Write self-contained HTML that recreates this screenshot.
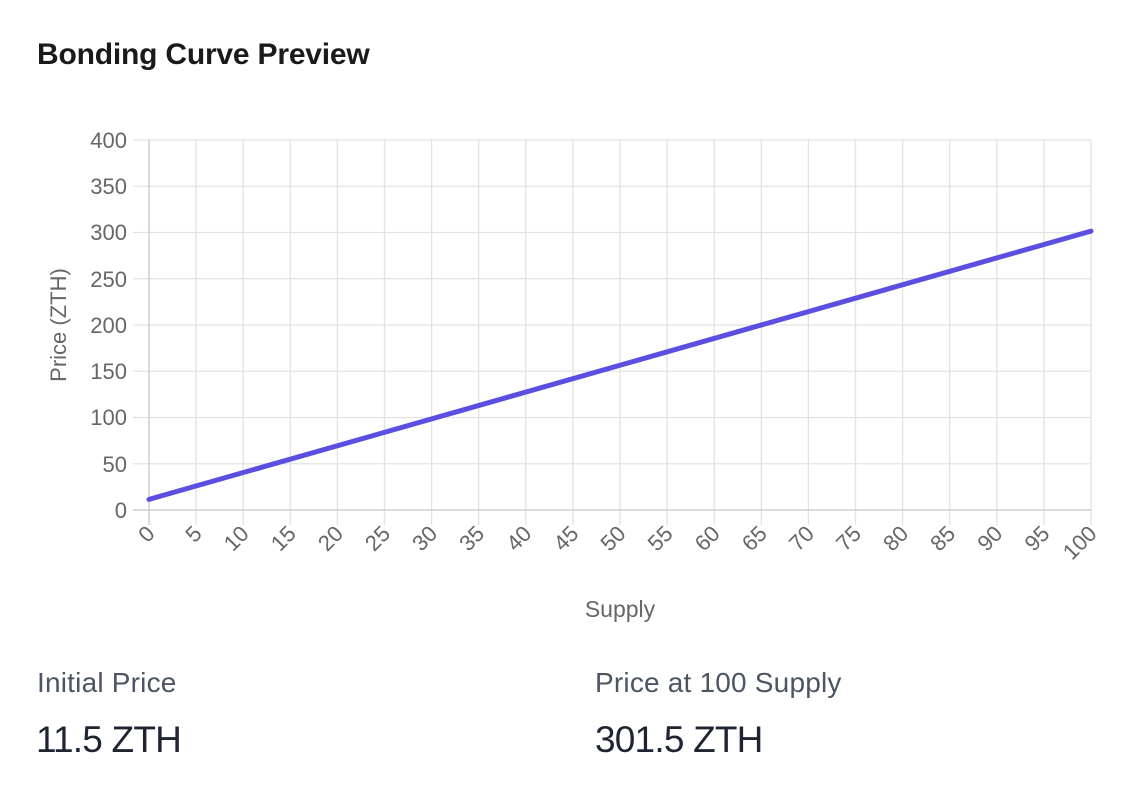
<!DOCTYPE html>
<html><head><meta charset="utf-8"><style>
html,body{margin:0;padding:0;background:#fff;width:1148px;height:798px;overflow:hidden;font-family:"Liberation Sans",sans-serif}
.t{position:absolute;left:37px;top:38px;font-size:30px;font-weight:bold;color:#1a1a1a;letter-spacing:-0.2px}
.l{position:absolute;font-size:28px;color:#4b5563;letter-spacing:0.2px}
.v{position:absolute;font-size:37px;color:#1f2433;letter-spacing:-0.8px}
</style></head><body>
<div class="t">Bonding Curve Preview</div>
<svg width="1148" height="798" style="position:absolute;left:0;top:0">
<g stroke="#e2e2e2" stroke-width="1.3">
<line x1="133" x2="1091" y1="140" y2="140"/><line x1="133" x2="1091" y1="186.25" y2="186.25"/><line x1="133" x2="1091" y1="232.5" y2="232.5"/><line x1="133" x2="1091" y1="278.75" y2="278.75"/><line x1="133" x2="1091" y1="325" y2="325"/><line x1="133" x2="1091" y1="371.25" y2="371.25"/><line x1="133" x2="1091" y1="417.5" y2="417.5"/><line x1="133" x2="1091" y1="463.75" y2="463.75"/>
<line x1="196.1" x2="196.1" y1="140" y2="525"/><line x1="243.2" x2="243.2" y1="140" y2="525"/><line x1="290.3" x2="290.3" y1="140" y2="525"/><line x1="337.4" x2="337.4" y1="140" y2="525"/><line x1="384.5" x2="384.5" y1="140" y2="525"/><line x1="431.6" x2="431.6" y1="140" y2="525"/><line x1="478.7" x2="478.7" y1="140" y2="525"/><line x1="525.8" x2="525.8" y1="140" y2="525"/><line x1="572.9" x2="572.9" y1="140" y2="525"/><line x1="620" x2="620" y1="140" y2="525"/><line x1="667.1" x2="667.1" y1="140" y2="525"/><line x1="714.2" x2="714.2" y1="140" y2="525"/><line x1="761.3" x2="761.3" y1="140" y2="525"/><line x1="808.4" x2="808.4" y1="140" y2="525"/><line x1="855.5" x2="855.5" y1="140" y2="525"/><line x1="902.6" x2="902.6" y1="140" y2="525"/><line x1="949.7" x2="949.7" y1="140" y2="525"/><line x1="996.8" x2="996.8" y1="140" y2="525"/><line x1="1043.9" x2="1043.9" y1="140" y2="525"/><line x1="1091" x2="1091" y1="140" y2="525"/>
</g>
<g stroke="#cfcfcf" stroke-width="1.5"><line x1="133" x2="1091" y1="510" y2="510"/><line x1="149" x2="149" y1="140" y2="525"/></g>
<g font-size="22" fill="#666" text-anchor="end">
<text x="127" y="148">400</text><text x="127" y="194">350</text><text x="127" y="240">300</text><text x="127" y="287">250</text><text x="127" y="333">200</text><text x="127" y="379">150</text><text x="127" y="425">100</text><text x="127" y="472">50</text><text x="127" y="518">0</text>
</g>
<text transform="translate(66,325) rotate(-90)" text-anchor="middle" font-size="22" fill="#666">Price (ZTH)</text>
<g font-size="22" fill="#666" text-anchor="end">
<text transform="translate(156,535) rotate(-45)">0</text><text transform="translate(203.1,535) rotate(-45)">5</text><text transform="translate(250.2,535) rotate(-45)">10</text><text transform="translate(297.3,535) rotate(-45)">15</text><text transform="translate(344.4,535) rotate(-45)">20</text><text transform="translate(391.5,535) rotate(-45)">25</text><text transform="translate(438.6,535) rotate(-45)">30</text><text transform="translate(485.7,535) rotate(-45)">35</text><text transform="translate(532.8,535) rotate(-45)">40</text><text transform="translate(579.9,535) rotate(-45)">45</text><text transform="translate(627,535) rotate(-45)">50</text><text transform="translate(674.1,535) rotate(-45)">55</text><text transform="translate(721.2,535) rotate(-45)">60</text><text transform="translate(768.3,535) rotate(-45)">65</text><text transform="translate(815.4,535) rotate(-45)">70</text><text transform="translate(862.5,535) rotate(-45)">75</text><text transform="translate(909.6,535) rotate(-45)">80</text><text transform="translate(956.7,535) rotate(-45)">85</text><text transform="translate(1003.8,535) rotate(-45)">90</text><text transform="translate(1050.9,535) rotate(-45)">95</text><text transform="translate(1098,535) rotate(-45)">100</text>
</g>
<text x="620" y="617" text-anchor="middle" font-size="23" fill="#666">Supply</text>
<line x1="149" y1="499.4" x2="1091" y2="231.1" stroke="#5a4fe0" stroke-width="5" stroke-linecap="round"/>
</svg>
<div class="l" style="left:37px;top:667px">Initial Price</div>
<div class="l" style="left:595px;top:667px">Price at 100 Supply</div>
<div class="v" style="left:36px;top:719px">11.5 ZTH</div>
<div class="v" style="left:595px;top:719px">301.5 ZTH</div>
</body></html>
